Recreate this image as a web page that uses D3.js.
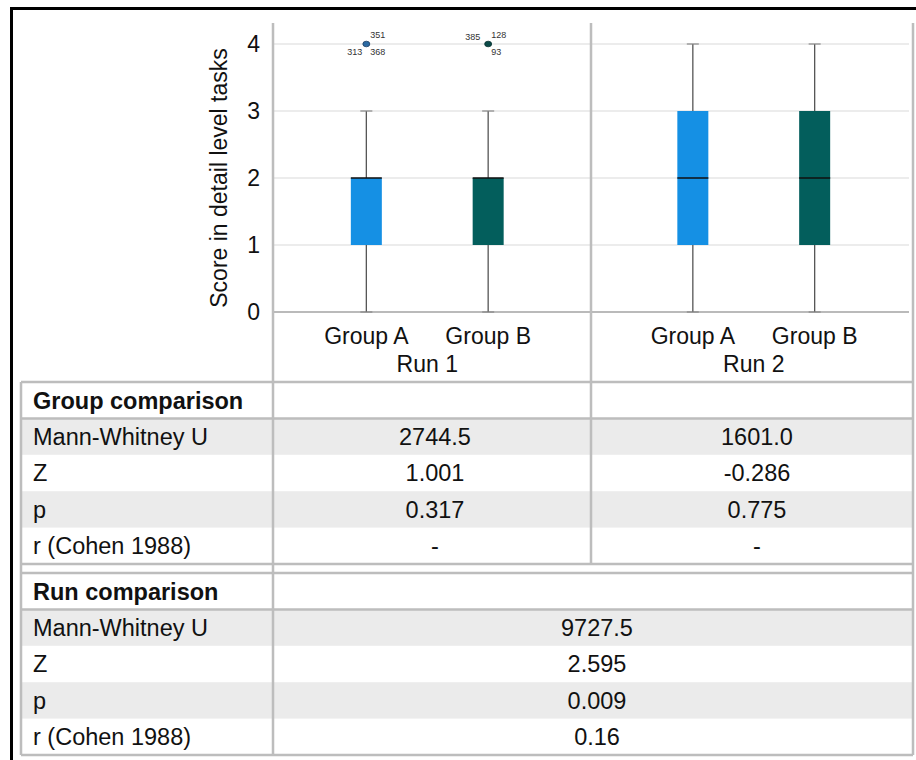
<!DOCTYPE html>
<html>
<head>
<meta charset="utf-8">
<script src="https://cdn.jsdelivr.net/npm/d3@7"></script>
<style>
  html, body { margin: 0; padding: 0; background: #fff; }
  svg { display: block; font-family: "Liberation Sans", Arial, sans-serif; }
</style>
</head>
<body>
<svg id="chart" width="916" height="760"></svg>
<script>
// ---------- data ----------
const runs = ["Run 1", "Run 2"];
const groups = ["Group A", "Group B"];
const yTicks = [0, 1, 2, 3, 4];

const boxRun    = ["Run 1", "Run 1", "Run 2", "Run 2"];
const boxGroup  = ["Group A", "Group B", "Group A", "Group B"];
const boxMin    = [0, 0, 0, 0];
const boxQ1     = [1, 1, 1, 1];
const boxMedian = [2, 2, 2, 2];
const boxQ3     = [2, 2, 3, 3];
const boxMax    = [3, 3, 4, 4];

const outlierRun   = ["Run 1", "Run 1"];
const outlierGroup = ["Group A", "Group B"];
const outlierValue = [4, 4];
const outlierIds   = [["351", "313", "368"], ["385", "128", "93"]];

const statLabels  = ["Mann-Whitney U", "Z", "p", "r (Cohen 1988)"];
const groupRun1   = ["2744.5", "1.001", "0.317", "-"];
const groupRun2   = ["1601.0", "-0.286", "0.775", "-"];
const runCompare  = ["9727.5", "2.595", "0.009", "0.16"];

// ---------- styles / layout ----------
const groupColor = { "Group A": "#1590e4", "Group B": "#035e5c" };
const outlierFill = { "Group A": "#2b6aa3", "Group B": "#0b4a48" };
const outlierStroke = { "Group A": "#1d3f66", "Group B": "#06302f" };
// label offsets around each outlier dot (dx, dy, anchor)
const outlierLabelPos = [
  [[4, -8, "start"], [-4, 9, "end"], [4, 9, "start"]],
  [[-8, -6, "end"], [3, -8, "start"], [3, 9, "start"]]
];

const plotLeft = 273, plotRight = 913, plotTop = 23;
const gridRight = 909;
const lineCol = "#bdbdbd";
const FS_TABLE = 23.5, FS_AXIS = 23;

const svg = d3.select("#chart");

// outer black frame
svg.append("rect")
  .attr("x", 11.5).attr("y", 8.5).attr("width", 930).attr("height", 800)
  .attr("fill", "none").attr("stroke", "#000").attr("stroke-width", 3);

// scales
const y = d3.scaleLinear().domain([0, 4]).range([312, 44]);
const x0 = d3.scaleBand().domain(runs).range([264, 917]).paddingInner(0);
const x1 = d3.scalePoint().domain(groups).range([0, x0.bandwidth()]).padding(0.84);
const bx = (run, g) => x0(run) + x1(g);
const boxW = 31;

// gridlines
svg.append("g").selectAll("line").data(yTicks.filter(d => d > 0)).join("line")
  .attr("x1", plotLeft).attr("x2", gridRight)
  .attr("y1", d => y(d)).attr("y2", d => y(d))
  .attr("stroke", "#d9d9d9").attr("stroke-width", 1.2);

// y axis (tick labels only)
const yAxis = d3.axisLeft(y).tickValues(yTicks).tickFormat(d3.format("d")).tickSize(0).tickPadding(0);
const yg = svg.append("g").attr("transform", `translate(${plotLeft - 13},0)`).call(yAxis);
yg.select(".domain").remove();
yg.selectAll("text").attr("font-size", FS_AXIS).attr("fill", "#111")
  .attr("font-family", "'Liberation Sans', Arial, sans-serif");

// baseline at 0
svg.append("line").attr("x1", plotLeft).attr("x2", gridRight)
  .attr("y1", y(0)).attr("y2", y(0)).attr("stroke", "#777").attr("stroke-width", 1.2);

// y title
svg.append("text")
  .attr("transform", `translate(227,${(y(0) + y(4)) / 2}) rotate(-90)`)
  .attr("text-anchor", "middle").attr("font-size", FS_AXIS).attr("fill", "#111")
  .text("Score in detail level tasks");

// boxes
const boxes = boxRun.map((r, i) => ({
  run: r, group: boxGroup[i], min: boxMin[i], q1: boxQ1[i],
  med: boxMedian[i], q3: boxQ3[i], max: boxMax[i]
}));
const bg = svg.append("g").selectAll("g").data(boxes).join("g");
bg.append("line")
  .attr("x1", d => bx(d.run, d.group)).attr("x2", d => bx(d.run, d.group))
  .attr("y1", d => y(d.min)).attr("y2", d => y(d.max))
  .attr("stroke", "#555").attr("stroke-width", 1.3);
bg.selectAll(".cap").data(d => [[d, d.min], [d, d.max]]).join("line")
  .attr("x1", ([d]) => bx(d.run, d.group) - 6).attr("x2", ([d]) => bx(d.run, d.group) + 6)
  .attr("y1", ([, v]) => y(v)).attr("y2", ([, v]) => y(v))
  .attr("stroke", "#888").attr("stroke-width", 1.2);
bg.append("rect")
  .attr("x", d => bx(d.run, d.group) - boxW / 2).attr("width", boxW)
  .attr("y", d => y(d.q3)).attr("height", d => y(d.q1) - y(d.q3))
  .attr("fill", d => groupColor[d.group]);
bg.append("line")
  .attr("x1", d => bx(d.run, d.group) - boxW / 2).attr("x2", d => bx(d.run, d.group) + boxW / 2)
  .attr("y1", d => y(d.med)).attr("y2", d => y(d.med))
  .attr("stroke", "#111").attr("stroke-width", 1.5);

// outliers
outlierRun.forEach((r, i) => {
  const g = outlierGroup[i];
  const cx = bx(r, g), cy = y(outlierValue[i]);
  svg.append("ellipse").attr("cx", cx).attr("cy", cy).attr("rx", 3.5).attr("ry", 2.8)
    .attr("fill", outlierFill[g]).attr("stroke", outlierStroke[g]).attr("stroke-width", 0.8);
  outlierIds[i].forEach((id, j) => {
    const [dx, dy, anchor] = outlierLabelPos[i][j];
    svg.append("text").attr("x", cx + dx).attr("y", cy + dy)
      .attr("text-anchor", anchor).attr("font-size", 9).attr("fill", "#333")
      .attr("dominant-baseline", "middle").text(id);
  });
});

// x labels
const xl = svg.append("g");
boxes.forEach(d => {
  xl.append("text").attr("x", bx(d.run, d.group)).attr("y", 344)
    .attr("text-anchor", "middle").attr("font-size", FS_AXIS).attr("fill", "#111").text(d.group);
});
runs.forEach(r => {
  xl.append("text").attr("x", x0(r) + x0.bandwidth() / 2).attr("y", 372)
    .attr("text-anchor", "middle").attr("font-size", FS_AXIS).attr("fill", "#111").text(r);
});

// ---------- table ----------
const tLeft = 21, rowH = 36.4;
const groupTop = 382, runTop = 573;
const divider = 591;
const tbl = svg.append("g");

function section(top, title, valueCols) {
  statLabels.forEach((lab, i) => {
    const ry = top + rowH * (i + 1);
    if (i % 2 === 0) {
      tbl.append("rect").attr("x", tLeft).attr("y", ry).attr("width", plotRight - tLeft)
        .attr("height", rowH).attr("fill", "#ebebeb");
    }
  });
  tbl.append("text").attr("x", 33).attr("y", top + rowH / 2).attr("dy", "0.36em")
    .attr("font-size", FS_TABLE).attr("font-weight", "bold").attr("fill", "#111").text(title);
  statLabels.forEach((lab, i) => {
    const cy = top + rowH * (i + 1.5);
    tbl.append("text").attr("x", 33).attr("y", cy).attr("dy", "0.36em")
      .attr("font-size", FS_TABLE).attr("fill", "#111").text(lab);
    valueCols.forEach(([cx, vals]) => {
      tbl.append("text").attr("x", cx).attr("y", cy).attr("dy", "0.36em")
        .attr("text-anchor", "middle").attr("font-size", FS_TABLE).attr("fill", "#111").text(vals[i]);
    });
  });
}
section(groupTop, "Group comparison", [
  [(plotLeft + divider) / 2 + 3, groupRun1],
  [(divider + plotRight) / 2 + 5, groupRun2]
]);
section(runTop, "Run comparison", [
  [(plotLeft + plotRight) / 2 + 4, runCompare]
]);

const groupBottom = groupTop + rowH * 5, runBottom = runTop + rowH * 5;
const hLines = [groupTop, groupTop + rowH, groupBottom, runTop, runTop + rowH, runBottom];
tbl.selectAll(".h").data(hLines).join("line")
  .attr("x1", tLeft).attr("x2", plotRight).attr("y1", d => d).attr("y2", d => d)
  .attr("stroke", lineCol).attr("stroke-width", 2.5);
const vLines = [
  [tLeft, groupTop, runBottom],
  [plotLeft, plotTop, runBottom],
  [divider, plotTop, groupBottom],
  [plotRight, plotTop, runBottom]
];
tbl.selectAll(".v").data(vLines).join("line")
  .attr("x1", d => d[0]).attr("x2", d => d[0]).attr("y1", d => d[1]).attr("y2", d => d[2])
  .attr("stroke", lineCol).attr("stroke-width", 2.5);
</script>
</body>
</html>
